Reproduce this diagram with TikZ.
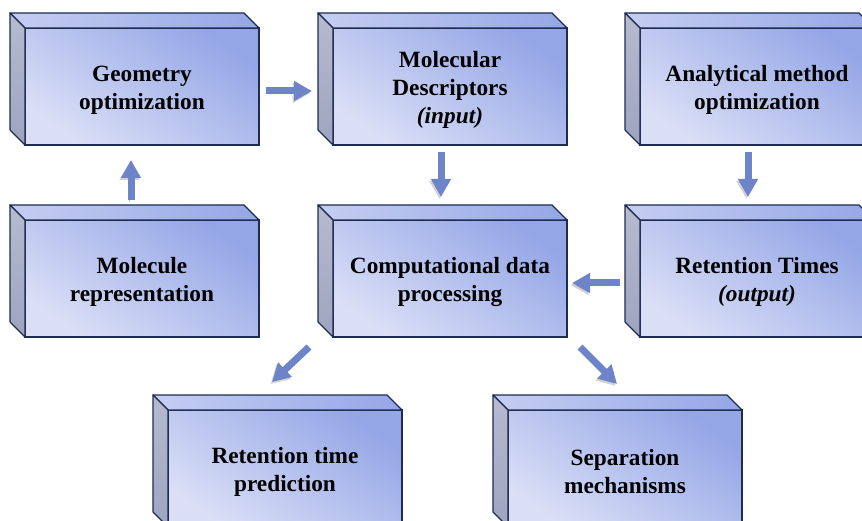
\documentclass[tikz,border=0pt]{standalone}
\usepackage{fontspec}
\setmainfont{Liberation Serif}
\usetikzlibrary{arrows.meta}
\definecolor{boxDark}{RGB}{148,166,230}
\definecolor{boxLight}{RGB}{218,223,246}
\definecolor{sideGray}{RGB}{158,164,192}
\definecolor{edgeNavy}{RGB}{30,44,80}
\definecolor{arrowBlue}{RGB}{110,132,200}
\newcommand{\firstLine}{\rule{0pt}{23pt}}

\begin{document}
\begin{tikzpicture}
[x=1pt,y=-1pt,
  frontFace/.style={rectangle,draw=edgeNavy,line width=1.2pt,
    minimum width=234pt,minimum height=117pt,inner sep=0pt,outer sep=0pt,
    top color=boxDark,bottom color=boxLight,shading angle=-35,
    align=center,font=\bfseries\fontsize{23.3}{28}\selectfont},
  topFace/.style={draw=edgeNavy,line width=1.2pt,line join=round,
    left color=boxLight!70!boxDark,right color=boxDark},
  sideFace/.style={draw=edgeNavy,line width=1.2pt,line join=round,
    top color=sideGray!75!white,bottom color=sideGray},
  flowArrow/.style={-{Triangle[length=18pt,width=19pt]},line width=7pt,
    draw=arrowBlue,
    preaction={draw=black,opacity=.18,transform canvas={shift={(-1.5pt,-2pt)}}}}]
\useasboundingbox (0,0) rectangle (862,521);
\clip (0,0) rectangle (862,521);

% front faces
\node[frontFace] (geo) at (142,86.5) {\firstLine Geometry\\optimization};
\node[frontFace] (desc) at (450,86.5) {\firstLine Molecular\\Descriptors\\\textit{(input)}};
\node[frontFace] (anal) at (757,86.5) {\firstLine Analytical method\\optimization};
\node[frontFace] (molRep) at (142,278.5) {\firstLine Molecule\\representation};
\node[frontFace] (comp) at (450,278.5) {\firstLine Computational data\\processing};
\node[frontFace] (retTime) at (757,278.5) {\firstLine Retention Times\\\textit{(output)}};
\node[frontFace] (pred) at (285,468.5) {\firstLine Retention time\\prediction};
\node[frontFace] (sep) at (625,468.5) {\firstLine Separation\\mechanisms};

% top and side faces
\foreach \n in {geo,desc,anal,molRep,comp,retTime,pred,sep}
{
  \draw[topFace] (\n.north west) -- ([shift={(-15,-15)}]\n.north west)
    -- ([shift={(-15,-15)}]\n.north east) -- (\n.north east) -- cycle;
  \draw[sideFace] (\n.north west) -- ([shift={(-15,-15)}]\n.north west)
    -- ([shift={(-15,-15)}]\n.south west) -- (\n.south west) -- cycle;
}

% arrows
\foreach \startNode/\endNode/\fx/\fy/\tx/\ty in {
  geo.east/desc.west/7/4.5/-21/4.5,
  molRep.north/geo.south/-11/-20/-11/15,
  desc.south/comp.north/-9/7/-9/-23,
  anal.south/retTime.north/-9/7/-9/-23,
  retTime.west/comp.east/-20/4.5/5/4.5,
  comp.south west/pred.north/-24/10/-13/-28,
  comp.south east/sep.north/13/10/-8/-26}
{
  \draw[flowArrow] ([shift={(\fx,\fy)}]\startNode)
    -- ([shift={(\tx,\ty)}]\endNode);
};
\end{tikzpicture}
\end{document}
